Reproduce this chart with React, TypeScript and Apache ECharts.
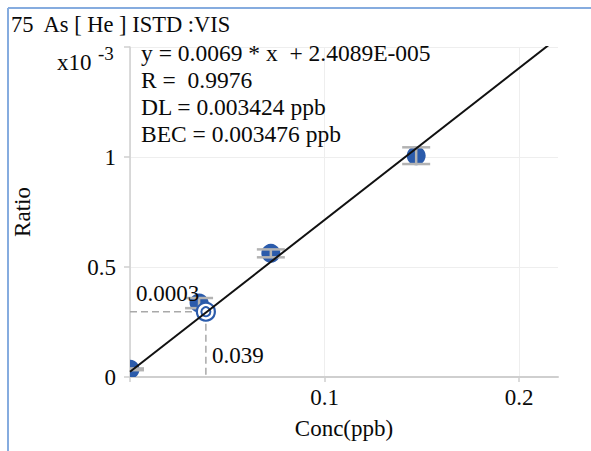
import { useEffect, useRef } from "react";
import * as echarts from "echarts";

// ---- data ----
const titleText = "75  As [ He ] ISTD :VIS";
const equationLines = [
  "y = 0.0069 * x  + 2.4089E-005",
  "R =  0.9976",
  "DL = 0.003424 ppb",
  "BEC = 0.003476 ppb",
];
const stdConc = [0, 0.0355, 0.0724, 0.1471];
const stdRatio = [0.000035, 0.000336, 0.000562, 0.001006];
const stdRatioErr = [0.000004, 0.000023, 0.000018, 0.000038];
const unknownConc = 0.039;
const unknownRatio = 0.000297;
const unknownConcLabel = "0.039";
const unknownRatioLabel = "0.0003";
const fitLineX = [0, 0.22];
const fitLineY = [0.000024, 0.001542];
const xTickValues = [0, 0.1, 0.2];
const xLabelValues = [0.1, 0.2];
const yTickValues = [0, 0.0005, 0.001, 0.0015];
const yLabelValues = [0, 0.0005, 0.001];

const FONT = "Liberation Serif";
const BLUE = "#2b5bab";
const GREY_AXIS = "#cfcfcf";
const INK = "#0a0a0a";

const txt = (text: string, x: number, y: number, size: number, z = 10) => ({
  type: "text",
  x,
  y,
  z,
  style: {
    text,
    fontFamily: FONT,
    fontSize: size,
    fill: INK,
    verticalAlign: "middle",
    textVerticalAlign: "middle",
  },
});

export default function App() {
  const ref = useRef<HTMLDivElement>(null);

  useEffect(() => {
    if (!ref.current) return;
    const chart = echarts.init(ref.current, undefined, { renderer: "svg" });

    const stdData = stdConc.map((c, i) => [c, stdRatio[i], stdRatioErr[i]]);

    const option: any = {
      animation: false,
      backgroundColor: "#ffffff",
      textStyle: { fontFamily: FONT },
      grid: { left: 130, right: 33, top: 47, bottom: 74, outerBoundsMode: "none" },
      xAxis: {
        type: "value",
        min: 0,
        max: 0.22,
        interval: 0.1,
        name: "Conc(ppb)",
        nameLocation: "middle",
        nameGap: 40,
        nameTextStyle: { fontFamily: FONT, fontSize: 23, color: INK },
        axisLine: { show: true, onZero: false, lineStyle: { color: GREY_AXIS, width: 2 } },
        axisTick: { show: true, length: 5, customValues: xTickValues, lineStyle: { color: GREY_AXIS, width: 1.5 } },
        axisLabel: {
          customValues: xLabelValues,
          margin: 9,
          fontFamily: FONT,
          fontSize: 23,
          color: INK,
          formatter: (v: number) => String(Math.round(v * 100) / 100),
        },
        splitLine: { show: true, lineStyle: { color: "#eeeeee", width: 1 } },
      },
      yAxis: {
        type: "value",
        min: 0,
        max: 0.0015,
        interval: 0.0005,
        name: "Ratio",
        nameLocation: "middle",
        nameGap: 96,
        nameRotate: 90,
        nameTextStyle: { fontFamily: FONT, fontSize: 23, color: INK },
        axisLine: { show: true, onZero: false, lineStyle: { color: GREY_AXIS, width: 1.5 } },
        axisTick: { show: true, length: 6, customValues: yTickValues, lineStyle: { color: GREY_AXIS, width: 1.5 } },
        axisLabel: {
          customValues: yLabelValues,
          margin: 14,
          fontFamily: FONT,
          fontSize: 23,
          color: INK,
          formatter: (v: number) => String(Math.round(v * 10000) / 10),
        },
        splitLine: { show: true, lineStyle: { color: "#eeeeee", width: 1 } },
      },
      series: [
        {
          type: "line",
          data: [
            [0, unknownRatio],
            [unknownConc, unknownRatio],
            [unknownConc, 0],
          ],
          symbol: "none",
          lineStyle: { color: "#a9a9a9", width: 1.5, type: [7, 4] },
          silent: true,
          z: 1,
        },
        {
          type: "custom",
          clip: true,
          data: stdData,
          z: 3,
          renderItem: (params: any, api: any) => {
            const x = api.value(0);
            const y = api.value(1);
            const e = api.value(2);
            const c = api.coord([x, y]);
            const t = api.coord([x, y + e]);
            const b = api.coord([x, y - e]);
            const hw = 14;
            const ls = { stroke: "#b3b3b3", lineWidth: 2.5 };
            return {
              type: "group",
              children: [
                { type: "circle", shape: { cx: c[0], cy: c[1], r: 9.5 }, style: { fill: BLUE } },
                { type: "line", shape: { x1: c[0], y1: t[1], x2: c[0], y2: b[1] }, style: ls },
                { type: "line", shape: { x1: c[0] - hw, y1: t[1], x2: c[0] + hw, y2: t[1] }, style: ls },
                { type: "line", shape: { x1: c[0] - hw, y1: b[1], x2: c[0] + hw, y2: b[1] }, style: ls },
              ],
            };
          },
        },
        {
          type: "custom",
          clip: true,
          data: [[unknownConc, unknownRatio]],
          z: 4,
          renderItem: (params: any, api: any) => {
            const c = api.coord([api.value(0), api.value(1)]);
            return {
              type: "group",
              children: [
                { type: "circle", shape: { cx: c[0], cy: c[1], r: 9 }, style: { fill: "#ffffff", stroke: BLUE, lineWidth: 2.2 } },
                { type: "circle", shape: { cx: c[0], cy: c[1], r: 4.5 }, style: { fill: "#ffffff", stroke: BLUE, lineWidth: 2 } },
              ],
            };
          },
        },
        {
          type: "line",
          data: fitLineX.map((x, i) => [x, fitLineY[i]]),
          symbol: "none",
          clip: true,
          lineStyle: { color: "#111111", width: 2 },
          z: 5,
        },
      ],
      graphic: [
        { type: "line", shape: { x1: 8, y1: 8, x2: 591, y2: 8 }, style: { stroke: "#86acdf", lineWidth: 2 } },
        { type: "line", shape: { x1: 8, y1: 8, x2: 8, y2: 451 }, style: { stroke: "#86acdf", lineWidth: 2 } },
        txt(titleText, 11, 24.5, 22.5),
        txt("x10", 57, 62.5, 23),
        txt("-3", 98, 53.5, 19),
        ...equationLines.map((t, i) => txt(t, 141, 52.7 + i * 27, 23.5)),
        txt(unknownRatioLabel, 136, 293.5, 23),
        txt(unknownConcLabel, 212, 355.5, 23),
      ],
    };

    chart.setOption(option);
    return () => chart.dispose();
  }, []);

  return (
    <div
      ref={ref}
      style={{ position: "fixed", left: 0, top: 0, width: 591, height: 451, background: "#fff" }}
    />
  );
}
